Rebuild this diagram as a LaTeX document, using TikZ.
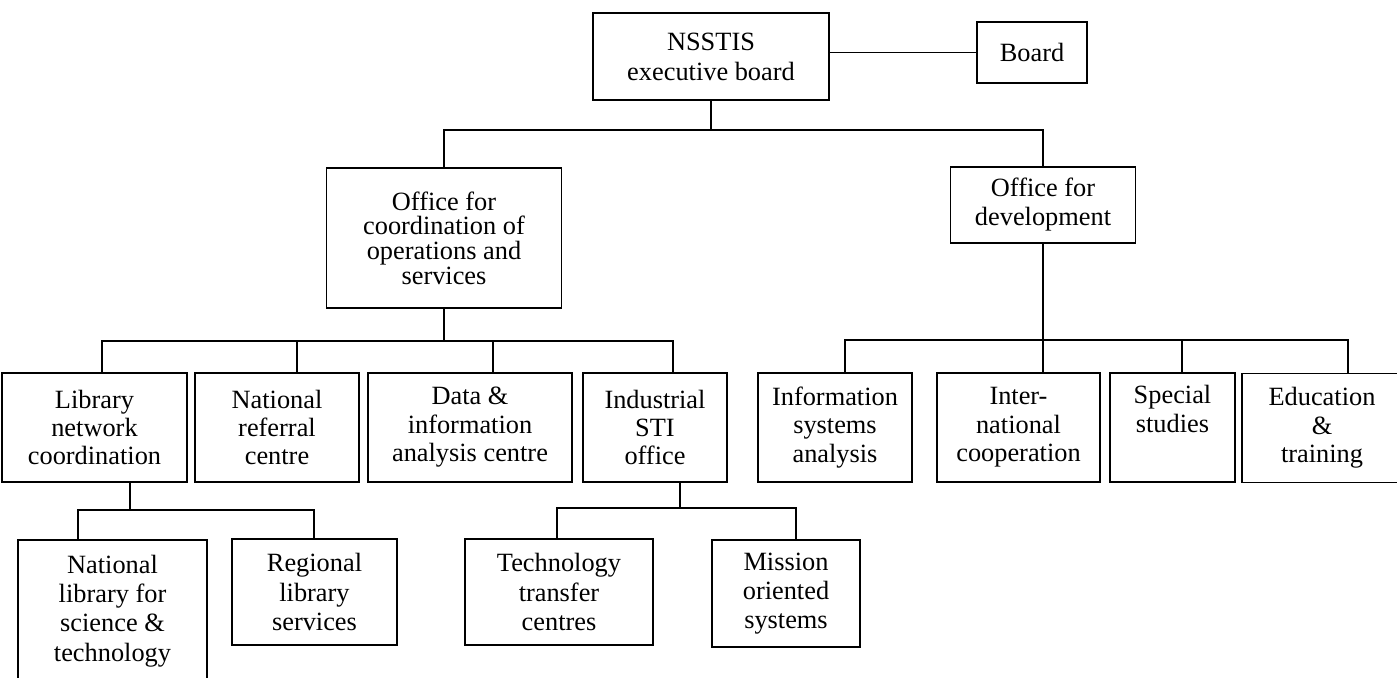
\documentclass[tikz,border=0pt]{standalone}
\usepackage{fontspec}
\setmainfont{Liberation Serif}
\begin{document}
\begin{tikzpicture}[x=0.02cm,y=-0.02cm,line width=1pt,
  orgbox/.style={draw,rectangle,align=center,inner sep=0pt,font=\fontsize{15}{16.5}\selectfont},
  tightbox/.style={orgbox,font=\fontsize{15}{14}\selectfont},
  lowbox/.style={orgbox,font=\fontsize{15}{16.2}\selectfont}]
\useasboundingbox (0,0) rectangle (1397,677);
\clip (0,0) rectangle (1397,677);
% top level
\node[orgbox,minimum width=4.72cm,minimum height=1.74cm,font=\fontsize{15}{17}\selectfont] (nss) at (711,56.5) {NSSTIS\\executive board};
\node[orgbox,minimum width=2.2cm,minimum height=1.22cm] (board) at (1032,52.5) {Board};
% offices
\node[tightbox,minimum width=4.7cm,minimum height=2.8cm] (coord) at (444,238) {Office for\\coordination of\\operations and\\services};
\node[orgbox,minimum width=3.7cm,minimum height=1.52cm] (dev) at (1043,205) {Office for\\development};
% level 3
\node[lowbox,minimum width=3.7cm,minimum height=2.18cm] (lib) at (94.5,427.5) {Library\\network\\coordination};
\node[lowbox,minimum width=3.28cm,minimum height=2.18cm] (nrc) at (277,427.5) {National\\referral\\centre};
\node[lowbox,minimum width=4.08cm,minimum height=2.18cm] (data) at (470,427.5) {Data \&\\information\\analysis centre};
\node[lowbox,minimum width=2.88cm,minimum height=2.18cm] (ind) at (655,427.5) {Industrial\\STI\\office};
\node[lowbox,minimum width=3.08cm,minimum height=2.18cm] (isa) at (835,427.5) {Information\\systems\\analysis};
\node[lowbox,minimum width=3.26cm,minimum height=2.18cm] (intl) at (1018.5,427.5) {Inter-\\national\\cooperation};
\node[lowbox,minimum width=2.5cm,minimum height=2.18cm] (spec) at (1172.5,427.5) {Special\\studies\\\strut};
\node[lowbox,minimum width=3.2cm,minimum height=2.18cm] (edu) at (1322,428) {Education\\\&\\training};
% level 4
\node[lowbox,minimum width=3.78cm,minimum height=2.84cm,font=\fontsize{15}{16.6}\selectfont] (nlib) at (112.5,611) {National\\library for\\science \&\\technology};
\node[lowbox,minimum width=3.3cm,minimum height=2.12cm,font=\fontsize{15}{16.6}\selectfont] (reg) at (314.5,592) {Regional\\library\\services};
\node[lowbox,minimum width=3.76cm,minimum height=2.12cm,font=\fontsize{15}{16.6}\selectfont] (tech) at (559,592) {Technology\\transfer\\centres};
\node[lowbox,minimum width=2.96cm,minimum height=2.14cm,font=\fontsize{15}{16.6}\selectfont] (mis) at (786,593.5) {Mission\\oriented\\systems};
% connectors: top
\draw (nss.east |- board.west) -- (board.west);
\coordinate (t) at (711,130);
\draw (nss.south) -- (t);
\draw (coord.north) |- (t) -| (dev.north);
% coordination bus
\coordinate (cL) at (102,341);
\coordinate (c2) at (297,341);
\coordinate (c3) at (493,341);
\coordinate (cR) at (673,341);
\draw (coord.south) -- (coord.south |- cL);
\draw (cL |- lib.north) -- (cL) -- (cR) -- (cR |- ind.north);
\draw (c2) -- (c2 |- nrc.north);
\draw (c3) -- (c3 |- data.north);
% development bus
\coordinate (dL) at (845,340);
\coordinate (d2) at (1043,340);
\coordinate (d3) at (1182,340);
\coordinate (dR) at (1348,340);
\draw (dev.south) -- (d2) -- (d2 |- intl.north);
\draw (dL |- isa.north) -- (dL) -- (dR) -- (dR |- edu.north);
\draw (d3) -- (d3 |- spec.north);
% library bus
\coordinate (lt) at (130,510);
\coordinate (lL) at (78,510);
\coordinate (lR) at (314,510);
\draw (lt |- lib.south) -- (lt);
\draw (lL |- nlib.north) -- (lL) -- (lR) -- (lR |- reg.north);
% industrial bus
\coordinate (it) at (680,508);
\coordinate (iL) at (557,508);
\coordinate (iR) at (796,508);
\draw (it |- ind.south) -- (it);
\draw (iL |- tech.north) -- (iL) -- (iR) -- (iR |- mis.north);
\end{tikzpicture}
\end{document}
